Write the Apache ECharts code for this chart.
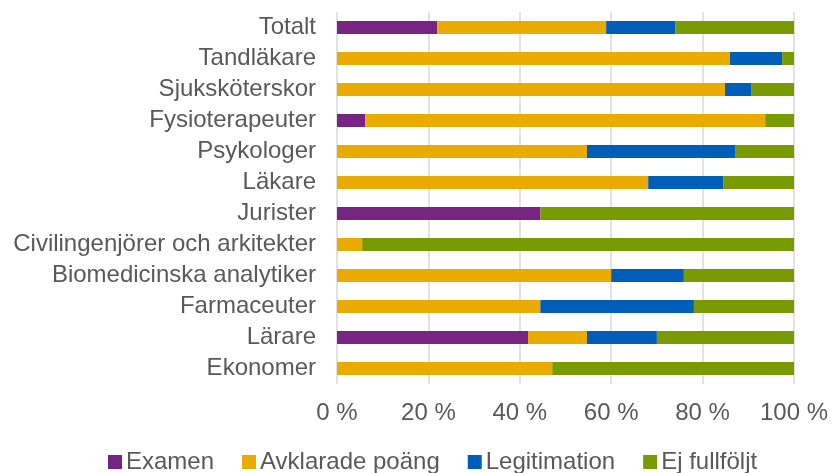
<!DOCTYPE html>
<html>
<head>
<meta charset="utf-8">
<script src="https://cdn.jsdelivr.net/npm/echarts@6/dist/echarts.min.js"></script>
<style>
  html, body { margin: 0; padding: 0; background: #fff; }
  #chart { width: 837px; height: 473px; }
</style>
</head>
<body>
<div id="chart"></div>
<script>
// kategorier uppifrån och ned
const categories = [
  "Totalt",
  "Tandläkare",
  "Sjuksköterskor",
  "Fysioterapeuter",
  "Psykologer",
  "Läkare",
  "Jurister",
  "Civilingenjörer och arkitekter",
  "Biomedicinska analytiker",
  "Farmaceuter",
  "Lärare",
  "Ekonomer",
];

const examen = [21.9, 0, 0, 6.2, 0, 0, 44.5, 0, 0, 0, 41.8, 0];
const avklarade = [37.0, 86.0, 84.9, 87.5, 54.7, 68.1, 0, 5.5, 60.0, 44.5, 12.9, 47.1];
const legitimation = [15.1, 11.4, 5.7, 0, 32.4, 16.4, 0, 0, 15.9, 33.6, 15.3, 0];
const ejFullfoljt = [26.0, 2.6, 9.4, 6.3, 12.9, 15.5, 55.5, 94.5, 24.1, 21.9, 30.0, 52.9];

const seriesNames = ["Examen", "Avklarade poäng", "Legitimation", "Ej fullföljt"];
const colors = ["#772583", "#eaab00", "#005eb8", "#7a9a01"];

const font = "Liberation Sans, Arial, sans-serif";

let myChart = echarts.init(document.getElementById("chart"));

function bar(name, data) {
  return {
    name: name,
    type: "bar",
    stack: "total",
    barWidth: 13,
    data: data,
  };
}

let option = {
  animation: false,
  color: colors,
  textStyle: { fontFamily: font },
  grid: {
    left: 337,
    right: 43,
    top: 12,
    bottom: 89,
    containLabel: false,
  },
  legend: {
    top: 445,
    left: 103,
    icon: "rect",
    itemWidth: 14,
    itemHeight: 14,
    itemGap: 28,
    textStyle: { fontSize: 24, color: "#595959", fontFamily: font, padding: [0, 0, 0, -1] },
    data: seriesNames,
  },
  xAxis: {
    type: "value",
    min: 0,
    max: 100,
    interval: 20,
    axisLine: { show: false },
    axisTick: { show: false },
    axisLabel: {
      fontSize: 24,
      color: "#595959",
      margin: 17,
      formatter: "{value} %",
    },
    splitLine: { lineStyle: { color: "#d9d9d9", width: 1.5 } },
  },
  yAxis: {
    type: "category",
    inverse: true,
    data: categories,
    axisLine: { show: false },
    axisTick: { show: false },
    axisLabel: {
      interval: 0,
      fontSize: 24,
      color: "#595959",
      margin: 21,
      padding: [3, 0, 0, 0],
    },
  },
  series: [
    bar(seriesNames[0], examen),
    bar(seriesNames[1], avklarade),
    bar(seriesNames[2], legitimation),
    bar(seriesNames[3], ejFullfoljt),
  ],
};

myChart.setOption(option);
</script>
</body>
</html>
